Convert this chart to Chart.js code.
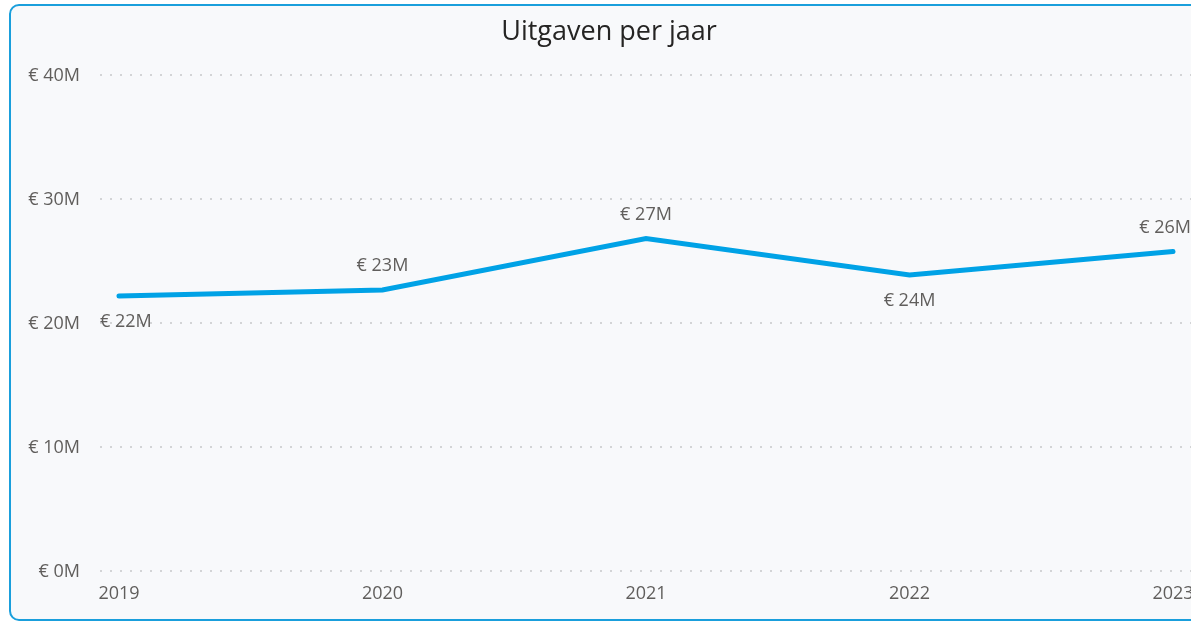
<!DOCTYPE html>
<html>
<head>
<meta charset="utf-8">
<script src="https://cdn.jsdelivr.net/npm/chart.js@4"></script>
<style>
    html, body { margin: 0; padding: 0; background: #ffffff; overflow: hidden; }
    body { width: 1191px; height: 624px; position: relative; }
    #visual {
        position: absolute;
        left: 9px;
        top: 4px;
        width: 1260px;
        height: 613px;
        border: 2px solid #1a9fdc;
        border-radius: 10px;
        background: #f8f9fb;
        overflow: hidden;
    }
    #chartWrap { position: absolute; left: 0; top: 0; width: 1240px; height: 613px; }
</style>
</head>
<body>
<div id="visual">
    <div id="chartWrap"><canvas id="spendingChart"></canvas></div>
</div>
<script>
const years = [2019, 2020, 2021, 2022, 2023];
const spending = [22.2e6, 22.7e6, 26.85e6, 23.9e6, 25.8e6];
const yTicks = [0, 10e6, 20e6, 30e6, 40e6];

const FONT = '"Open Sans", "Noto Sans", sans-serif';
const TEXT_GREY = '#605e5c';

function euroM(value) {
    return '€ ' + Math.round(value / 1e6) + 'M';
}

// Power BI-achtige datalabels: onder het punt bij een dal, anders erboven
const dataLabels = {
    id: 'dataLabels',
    afterDatasetsDraw(chart) {
        const ctx = chart.ctx;
        const area = chart.chartArea;
        const meta = chart.getDatasetMeta(0);
        ctx.save();
        ctx.font = '18px ' + FONT;
        ctx.fillStyle = TEXT_GREY;
        ctx.textBaseline = 'middle';
        ctx.textAlign = 'left';
        meta.data.forEach((pt, i) => {
            const v = spending[i];
            const prev = i > 0 ? spending[i - 1] : Infinity;
            const next = i < spending.length - 1 ? spending[i + 1] : Infinity;
            const below = v < prev && v < next;
            const text = euroM(v);
            const w = ctx.measureText(text).width;
            let x = pt.x - w / 2;
            x = Math.max(area.left, Math.min(x, area.right - 16 - w));
            const y = below ? pt.y + 26 : pt.y - 24;
            ctx.fillText(text, x, y);
        });
        ctx.restore();
    }
};

const ctx = document.getElementById('spendingChart').getContext('2d');

new Chart(ctx, {
    type: 'line',
    data: {
        datasets: [{
            label: 'Uitgaven',
            data: years.map((y, i) => ({ x: y, y: spending[i] })),
            borderColor: '#00a2e6',
            borderWidth: 5,
            borderCapStyle: 'round',
            borderJoinStyle: 'miter',
            pointRadius: 0,
            pointHoverRadius: 0,
            tension: 0,
            fill: false
        }]
    },
    options: {
        responsive: true,
        maintainAspectRatio: false,
        animation: false,
        layout: {
            padding: { left: 0, right: 44, top: 0, bottom: 2 }
        },
        plugins: {
            legend: { display: false },
            tooltip: { enabled: false },
            title: {
                display: true,
                text: 'Uitgaven per jaar',
                color: '#252423',
                font: { family: FONT, size: 27, weight: 'normal' },
                padding: { top: 10, bottom: 27 }
            }
        },
        scales: {
            x: {
                type: 'linear',
                min: 2018.928,
                max: 2023.129,
                grid: { display: false, drawTicks: false },
                border: { display: false },
                afterBuildTicks: (scale) => {
                    scale.ticks = years.map(v => ({ value: v }));
                },
                ticks: {
                    autoSkip: false,
                    maxRotation: 0,
                    padding: 12,
                    color: TEXT_GREY,
                    font: { family: FONT, size: 18 },
                    callback: (value) => String(value)
                }
            },
            y: {
                min: 0,
                max: 40e6,
                afterFit: (scale) => { scale.width = 89; },
                afterBuildTicks: (scale) => {
                    scale.ticks = yTicks.map(v => ({ value: v }));
                },
                grid: {
                    drawTicks: false,
                    color: '#d3d4d6',
                    lineWidth: 2
                },
                border: { display: false, dash: [2, 8] },
                ticks: {
                    padding: 20,
                    color: TEXT_GREY,
                    font: { family: FONT, size: 18 },
                    callback: (value) => euroM(value)
                }
            }
        }
    },
    plugins: [dataLabels]
});
</script>
</body>
</html>
